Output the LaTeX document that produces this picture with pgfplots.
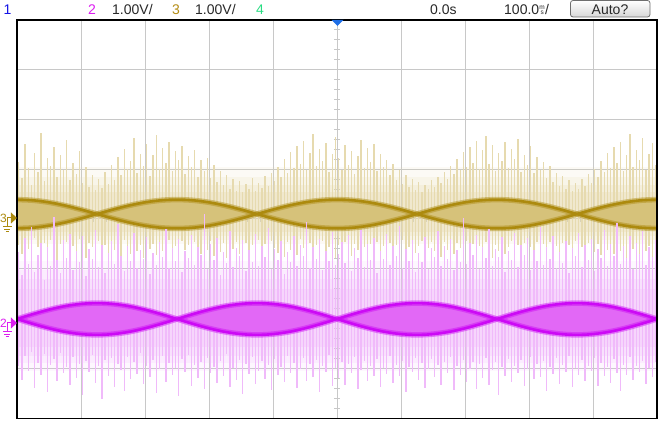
\documentclass[border=0pt]{standalone}
\usepackage{pgfplots}
\pgfplotsset{compat=1.18}
\usepackage{pgfplotstable}
\usepackage{fontspec}
\setmainfont{Liberation Sans}
\definecolor{gline}{RGB}{172,138,14}
\definecolor{gfill}{RGB}{214,194,122}
\definecolor{gnoise}{RGB}{230,218,175}
\definecolor{mline}{RGB}{204,10,245}
\definecolor{mfill}{RGB}{226,104,246}
\definecolor{mnoise}{RGB}{240,186,250}
\definecolor{gridc}{RGB}{200,200,200}
\definecolor{txt}{RGB}{40,40,40}
\definecolor{ch1}{RGB}{20,20,230}
\definecolor{ch2}{RGB}{220,30,240}
\definecolor{ch3}{RGB}{180,140,20}
\definecolor{ch4}{RGB}{40,220,130}
\definecolor{trig}{RGB}{30,110,230}

% the two crossing envelope traces of each channel
\pgfplotstableread{
x gA gB mC mD
-5 0.39 -0.19 -2.01 -2.01
-4.75 0.376 -0.176 -1.911 -2.109
-4.5 0.335 -0.135 -1.822 -2.198
-4.25 0.271 -0.071 -1.751 -2.269
-4 0.19 0.01 -1.706 -2.314
-3.75 0.1 0.1 -1.69 -2.33
-3.5 0.01 0.19 -1.706 -2.314
-3.25 -0.071 0.271 -1.751 -2.269
-3 -0.135 0.335 -1.822 -2.198
-2.75 -0.176 0.376 -1.911 -2.109
-2.5 -0.19 0.39 -2.01 -2.01
-2.25 -0.176 0.376 -2.109 -1.911
-2 -0.135 0.335 -2.198 -1.822
-1.75 -0.071 0.271 -2.269 -1.751
-1.5 0.01 0.19 -2.314 -1.706
-1.25 0.1 0.1 -2.33 -1.69
-1 0.19 0.01 -2.314 -1.706
-0.75 0.271 -0.071 -2.269 -1.751
-0.5 0.335 -0.135 -2.198 -1.822
-0.25 0.376 -0.176 -2.109 -1.911
0 0.39 -0.19 -2.01 -2.01
0.25 0.376 -0.176 -1.911 -2.109
0.5 0.335 -0.135 -1.822 -2.198
0.75 0.271 -0.071 -1.751 -2.269
1 0.19 0.01 -1.706 -2.314
1.25 0.1 0.1 -1.69 -2.33
1.5 0.01 0.19 -1.706 -2.314
1.75 -0.071 0.271 -1.751 -2.269
2 -0.135 0.335 -1.822 -2.198
2.25 -0.176 0.376 -1.911 -2.109
2.5 -0.19 0.39 -2.01 -2.01
2.75 -0.176 0.376 -2.109 -1.911
3 -0.135 0.335 -2.198 -1.822
3.25 -0.071 0.271 -2.269 -1.751
3.5 0.01 0.19 -2.314 -1.706
3.75 0.1 0.1 -2.33 -1.69
4 0.19 0.01 -2.314 -1.706
4.25 0.271 -0.071 -2.269 -1.751
4.5 0.335 -0.135 -2.198 -1.822
4.75 0.376 -0.176 -2.109 -1.911
5 0.39 -0.19 -2.01 -2.01
}\env

% outline of the filled band of each channel (upper edge forward, lower edge back)
\pgfplotstableread{
x gy my
-5 0.39 -2.01
-4.75 0.376 -1.911
-4.5 0.335 -1.822
-4.25 0.271 -1.751
-4 0.19 -1.706
-3.75 0.1 -1.69
-3.5 0.19 -1.706
-3.25 0.271 -1.751
-3 0.335 -1.822
-2.75 0.376 -1.911
-2.5 0.39 -2.01
-2.25 0.376 -1.911
-2 0.335 -1.822
-1.75 0.271 -1.751
-1.5 0.19 -1.706
-1.25 0.1 -1.69
-1 0.19 -1.706
-0.75 0.271 -1.751
-0.5 0.335 -1.822
-0.25 0.376 -1.911
0 0.39 -2.01
0.25 0.376 -1.911
0.5 0.335 -1.822
0.75 0.271 -1.751
1 0.19 -1.706
1.25 0.1 -1.69
1.5 0.19 -1.706
1.75 0.271 -1.751
2 0.335 -1.822
2.25 0.376 -1.911
2.5 0.39 -2.01
2.75 0.376 -1.911
3 0.335 -1.822
3.25 0.271 -1.751
3.5 0.19 -1.706
3.75 0.1 -1.69
4 0.19 -1.706
4.25 0.271 -1.751
4.5 0.335 -1.822
4.75 0.376 -1.911
5 0.39 -2.01
5 -0.19 -2.01
4.75 -0.176 -2.109
4.5 -0.135 -2.198
4.25 -0.071 -2.269
4 0.01 -2.314
3.75 0.1 -2.33
3.5 0.01 -2.314
3.25 -0.071 -2.269
3 -0.135 -2.198
2.75 -0.176 -2.109
2.5 -0.19 -2.01
2.25 -0.176 -2.109
2 -0.135 -2.198
1.75 -0.071 -2.269
1.5 0.01 -2.314
1.25 0.1 -2.33
1 0.01 -2.314
0.75 -0.071 -2.269
0.5 -0.135 -2.198
0.25 -0.176 -2.109
0 -0.19 -2.01
-0.25 -0.176 -2.109
-0.5 -0.135 -2.198
-0.75 -0.071 -2.269
-1 0.01 -2.314
-1.25 0.1 -2.33
-1.5 0.01 -2.314
-1.75 -0.071 -2.269
-2 -0.135 -2.198
-2.25 -0.176 -2.109
-2.5 -0.19 -2.01
-2.75 -0.176 -2.109
-3 -0.135 -2.198
-3.25 -0.071 -2.269
-3.5 0.01 -2.314
-3.75 0.1 -2.33
-4 0.01 -2.314
-4.25 -0.071 -2.269
-4.5 -0.135 -2.198
-4.75 -0.176 -2.109
-5 -0.19 -2.01
}\band

\pgfplotstableread{
x gu gd mu md
-4.975 1.05 0.62 1.35 0.95
-4.925 0.72 0.81 0.88 1.22
-4.875 1.41 0.55 1.62 0.74
-4.825 0.93 0.70 1.10 1.05
-4.775 0.58 0.92 1.85 0.66
-4.725 1.22 0.48 0.95 1.38
-4.675 0.85 0.66 1.28 0.88
-4.625 1.63 0.75 1.52 1.12
-4.575 0.66 0.58 0.79 0.71
-4.525 1.12 0.87 1.44 1.46
-4.475 0.97 0.52 1.07 0.93
-4.425 1.35 0.69 2.05 0.80
-4.375 0.74 0.95 1.19 1.25
-4.325 1.18 0.61 0.92 0.68
-4.275 0.88 0.73 1.58 1.09
-4.225 1.48 0.56 1.23 0.97
-4.175 0.69 0.84 1.71 1.33
-4.125 1.02 0.64 0.98 0.76
-4.075 0.81 0.78 1.36 1.18
-4.025 1.27 0.50 1.14 0.90
-3.975 0.62 0.71 1.67 1.52
-3.925 0.95 0.88 0.86 0.84
-3.875 0.55 0.59 1.41 1.07
-3.825 0.78 0.67 1.20 0.73
-3.775 0.49 0.82 1.78 1.29
-3.725 0.71 0.54 1.05 0.95
-3.675 0.52 0.76 1.49 1.61
-3.625 0.84 0.63 0.93 0.82
-3.575 0.60 0.90 1.32 1.14
-3.525 0.98 0.57 1.56 0.79
-3.475 0.68 0.72 1.11 1.36
-3.425 1.15 0.60 1.90 0.91
-3.375 0.79 0.85 1.26 1.02
-3.325 1.30 0.53 0.97 1.44
-3.275 0.91 0.68 1.47 0.77
-3.225 1.06 0.80 1.16 1.21
-3.175 1.52 0.58 1.73 0.86
-3.125 0.83 0.74 1.03 1.10
-3.075 1.21 0.63 1.39 0.69
-3.025 0.96 0.89 1.21 1.31
-2.975 1.40 0.56 1.64 0.94
-2.925 0.77 0.70 0.90 1.17
-2.875 1.19 0.61 1.33 0.83
-2.825 1.58 0.83 1.08 1.48
-2.775 0.90 0.59 1.54 1.00
-2.725 1.33 0.75 1.25 0.75
-2.675 1.02 0.66 1.81 1.26
-2.625 1.45 0.52 1.02 0.89
-2.575 0.86 0.79 1.43 1.12
-2.525 1.26 0.64 1.17 0.98
-2.475 1.09 0.86 1.60 1.55
-2.425 1.37 0.55 0.94 0.81
-2.375 0.80 0.72 1.37 1.06
-2.325 1.16 0.62 1.22 0.72
-2.275 0.94 0.91 1.69 1.35
-2.225 1.29 0.57 1.09 0.92
-2.175 0.75 0.69 1.45 1.19
-2.125 1.08 0.80 1.28 0.87
-2.075 0.87 0.60 2.12 1.41
-2.025 1.13 0.73 1.00 0.78
-1.975 0.73 0.54 1.51 1.09
-1.925 0.99 0.84 1.18 0.96
-1.875 0.64 0.65 1.63 1.28
-1.825 0.86 0.77 0.89 0.85
-1.775 0.58 0.59 1.34 1.15
-1.725 0.79 0.88 1.13 0.70
-1.675 0.51 0.62 1.76 1.37
-1.625 0.70 0.71 1.04 0.99
-1.575 0.47 0.56 1.42 1.23
-1.525 0.66 0.81 1.27 0.82
-1.475 0.44 0.67 1.59 1.50
-1.425 0.61 0.58 0.96 0.90
-1.375 0.50 0.74 1.38 1.11
-1.325 0.72 0.63 1.15 0.76
-1.275 0.46 0.85 1.70 1.30
-1.225 0.63 0.53 1.07 1.04
-1.175 0.53 0.70 1.46 0.84
-1.125 0.76 0.61 1.24 1.20
-1.075 0.57 0.82 1.83 0.93
-1.025 0.82 0.55 1.01 1.42
-0.975 0.67 0.68 1.40 0.80
-0.925 0.95 0.78 1.19 1.13
-0.875 0.74 0.60 1.57 0.97
-0.825 1.10 0.87 0.91 1.27
-0.775 0.83 0.57 1.35 0.74
-0.725 1.24 0.72 1.14 1.09
-0.675 0.92 0.64 1.66 0.88
-0.625 1.36 0.83 1.06 1.39
-0.575 1.00 0.51 1.48 1.01
-0.525 1.47 0.69 1.26 0.79
-0.475 0.89 0.77 1.95 1.24
-0.425 1.23 0.58 1.02 0.91
-0.375 1.60 0.86 1.44 1.16
-0.325 0.97 0.62 1.20 0.83
-0.275 1.31 0.74 1.61 1.46
-0.225 1.07 0.55 0.99 0.95
-0.175 1.43 0.80 1.37 1.07
-0.125 0.85 0.66 1.16 0.73
-0.075 1.20 0.59 1.74 1.34
-0.025 1.54 0.89 1.08 0.98
0.025 1.12 0.63 1.30 1.19
0.075 0.88 0.79 1.55 0.86
0.125 1.38 0.57 1.12 1.32
0.175 0.99 0.71 1.68 0.90
0.225 1.26 0.84 0.97 1.08
0.275 0.81 0.60 1.43 0.77
0.325 1.17 0.73 1.23 1.40
0.375 1.49 0.54 1.79 1.02
0.425 0.93 0.67 1.05 0.85
0.475 1.32 0.88 1.50 1.25
0.525 1.04 0.61 1.18 0.94
0.575 1.41 0.76 1.62 1.14
0.625 0.86 0.56 0.93 0.81
0.675 1.21 0.82 1.36 1.36
0.725 0.95 0.65 1.21 0.99
0.775 1.09 0.70 1.71 1.10
0.825 0.78 0.58 1.09 0.75
0.875 1.00 0.85 1.46 1.29
0.925 0.69 0.62 1.27 0.92
0.975 0.88 0.74 1.86 1.15
1.025 0.60 0.53 1.03 0.84
1.075 0.79 0.80 1.40 1.47
1.125 0.55 0.66 1.17 0.97
1.175 0.71 0.59 1.58 1.06
1.225 0.48 0.78 0.95 0.79
1.275 0.64 0.64 1.33 1.23
1.325 0.45 0.55 1.15 0.88
1.375 0.59 0.83 1.64 1.38
1.425 0.50 0.69 1.00 1.01
1.475 0.68 0.57 1.42 0.80
1.525 0.54 0.75 1.25 1.17
1.575 0.75 0.61 1.77 0.93
1.625 0.62 0.87 1.06 1.32
1.675 0.84 0.56 1.47 0.86
1.725 0.70 0.72 1.20 1.09
1.775 0.97 0.63 1.60 0.76
1.825 0.80 0.81 0.98 1.43
1.875 1.11 0.58 1.38 0.95
1.925 0.89 0.69 1.14 1.12
1.975 1.25 0.77 2.02 0.82
2.025 0.94 0.54 1.10 1.27
2.075 1.35 0.86 1.52 1.00
2.125 1.03 0.60 1.29 0.87
2.175 1.46 0.73 1.69 1.40
2.225 0.91 0.65 1.01 0.91
2.275 1.28 0.82 1.45 1.18
2.325 1.56 0.57 1.22 0.78
2.375 1.01 0.70 1.80 1.33
2.425 1.39 0.88 1.07 1.03
2.475 0.87 0.62 1.41 0.86
2.525 1.22 0.75 1.24 1.52
2.575 1.06 0.59 1.65 0.97
2.625 1.44 0.80 0.94 1.14
2.675 0.92 0.67 1.37 0.80
2.725 1.30 0.55 1.19 1.26
2.775 1.10 0.84 1.73 0.94
2.825 1.51 0.63 1.04 1.08
2.875 0.84 0.72 1.49 0.83
2.925 1.19 0.58 1.28 1.35
2.975 0.98 0.79 1.62 1.01
3.025 1.36 0.66 0.99 0.77
3.075 0.82 0.85 1.39 1.21
3.125 1.14 0.56 1.16 0.90
3.175 0.88 0.71 1.84 1.16
3.225 1.05 0.61 1.08 0.85
3.275 0.73 0.80 1.44 1.44
3.325 0.96 0.57 1.21 0.96
3.375 0.65 0.74 1.66 1.10
3.425 0.83 0.64 1.02 0.79
3.475 0.57 0.87 1.35 1.30
3.525 0.76 0.59 1.13 0.92
3.575 0.51 0.70 1.57 1.07
3.625 0.69 0.62 0.92 0.74
3.675 0.47 0.78 1.43 1.37
3.725 0.62 0.55 1.26 0.99
3.775 0.50 0.73 1.72 1.12
3.825 0.71 0.66 1.05 0.82
3.875 0.56 0.84 1.48 1.25
3.925 0.80 0.58 1.18 0.94
3.975 0.63 0.69 1.61 1.05
4.025 0.91 0.76 0.97 0.78
4.075 0.74 0.60 1.40 1.34
4.125 1.07 0.83 1.22 0.89
4.175 0.85 0.56 1.78 1.15
4.225 1.23 0.72 1.06 0.97
4.275 0.92 0.64 1.51 1.28
4.325 1.34 0.81 1.27 0.81
4.375 1.02 0.59 1.93 1.09
4.425 1.45 0.75 1.11 1.45
4.475 0.86 0.67 1.46 0.93
4.525 1.18 0.88 1.23 1.13
4.575 1.60 0.57 1.67 0.76
4.625 0.95 0.71 1.00 1.22
4.675 1.29 0.63 1.53 0.95
4.725 1.08 0.82 1.30 1.06
4.775 1.52 0.58 1.76 0.84
4.825 0.89 0.74 1.08 1.31
4.875 1.21 0.65 1.44 0.99
4.925 1.42 0.86 1.25 1.16
4.975 0.99 0.61 1.59 0.87
}\noise

\begin{document}
\begin{tikzpicture}
% minor ticks on the centre lines
\begin{scope}[draw=gridc, line width=1pt]
\foreach \k in {-19,...,19} \draw (317pt,{199pt+\k*9.95pt}) -- (323pt,{199pt+\k*9.95pt});
\foreach \k in {-24,...,24} \draw ({320pt+\k*12.8pt},196pt) -- ({320pt+\k*12.8pt},202pt);
\end{scope}
\begin{axis}[
  at={(0pt,0pt)}, anchor=south west,
  scale only axis, width=640pt, height=398pt,
  xmin=-5, xmax=5, ymin=-4, ymax=4,
  xtick={-4,-3,-2,-1,0,1,2,3,4}, ytick={-3,-2,-1,0,1,2,3},
  xticklabels={}, yticklabels={},
  major tick length=0pt, tick style={draw=none},
  grid=major, grid style={draw=gridc, line width=1pt},
  axis line style={draw=none},
  clip=true,
]
% gold channel noise halo (graded) and spikes
\addplot[forget plot, draw=none, fill=gnoise, fill opacity=0.12] coordinates {(-5,-0.50) (5,-0.50) (5,1.05) (-5,1.05)} -- cycle;
\addplot[forget plot, draw=none, fill=gnoise, fill opacity=0.18] coordinates {(-5,-0.42) (5,-0.42) (5,0.85) (-5,0.85)} -- cycle;
\addplot[forget plot, draw=none, fill=gnoise, fill opacity=0.22] coordinates {(-5,-0.34) (5,-0.34) (5,0.68) (-5,0.68)} -- cycle;
\addplot[forget plot, draw=none, fill=gnoise, fill opacity=0.32] coordinates {(-5,-0.27) (5,-0.27) (5,0.54) (-5,0.54)} -- cycle;
\addplot[forget plot, draw=none, mark=none,
  error bars/.cd, y dir=both, y explicit, error mark=none,
  error bar style={draw=gnoise, line width=1.4pt}]
  table[x=x, y expr=0.1, y error plus=gu, y error minus=gd] {\noise};
% gold band
\addplot[forget plot, draw=none, fill=gfill] table[x=x,y=gy] {\band} -- cycle;
\addplot[forget plot, gline, smooth, line width=5.5pt, opacity=0.45] table[x=x,y=gA] {\env};
\addplot[forget plot, gline, smooth, line width=5.5pt, opacity=0.45] table[x=x,y=gB] {\env};
\addplot[forget plot, gline, smooth, line width=2.6pt] table[x=x,y=gA] {\env};
\addplot[forget plot, gline, smooth, line width=2.6pt] table[x=x,y=gB] {\env};
% magenta channel noise halo (graded) and spikes
\addplot[forget plot, draw=none, fill=mnoise, fill opacity=0.12] coordinates {(-5,-3.05) (5,-3.05) (5,-0.85) (-5,-0.85)} -- cycle;
\addplot[forget plot, draw=none, fill=mnoise, fill opacity=0.18] coordinates {(-5,-2.90) (5,-2.90) (5,-1.02) (-5,-1.02)} -- cycle;
\addplot[forget plot, draw=none, fill=mnoise, fill opacity=0.22] coordinates {(-5,-2.75) (5,-2.75) (5,-1.20) (-5,-1.20)} -- cycle;
\addplot[forget plot, draw=none, fill=mnoise, fill opacity=0.32] coordinates {(-5,-2.58) (5,-2.58) (5,-1.40) (-5,-1.40)} -- cycle;
\addplot[forget plot, draw=none, mark=none,
  error bars/.cd, y dir=both, y explicit, error mark=none,
  error bar style={draw=mnoise, line width=1.4pt}]
  table[x=x, y expr=-2.01, y error plus=mu, y error minus=md] {\noise};
% magenta band
\addplot[forget plot, draw=none, fill=mfill] table[x=x,y=my] {\band} -- cycle;
\addplot[forget plot, mline, smooth, line width=5.5pt, opacity=0.45] table[x=x,y=mC] {\env};
\addplot[forget plot, mline, smooth, line width=5.5pt, opacity=0.45] table[x=x,y=mD] {\env};
\addplot[forget plot, mline, smooth, line width=2.6pt] table[x=x,y=mC] {\env};
\addplot[forget plot, mline, smooth, line width=2.6pt] table[x=x,y=mD] {\env};
\end{axis}
% overlay in reference pixel coordinates
\begin{scope}[x=1pt, y=-1pt, shift={(-17pt,418pt)}]
\draw[black, line width=1.3pt] (17,20) rectangle (657,418.3);
% trigger marker
\fill[trig] (331.5,20) -- (343.5,20) -- (337.5,26) -- cycle;
% top bar texts
\begin{scope}[every node/.style={inner sep=0pt, anchor=base west, font=\fontsize{14}{14}\selectfont}]
\node[text=ch1] at (3.5,15) {1};
\node[text=ch2] at (88,15) {2};
\node[text=txt] at (112,15) {1.00V/};
\node[text=ch3] at (172,15) {3};
\node[text=txt] at (195,15) {1.00V/};
\node[text=ch4] at (256,15) {4};
\node[text=txt] at (430,15) {0.0s};
\node[text=txt] at (504,15) {100.0\kern0.2pt\raisebox{0.5pt}{\fontsize{6.5}{6}\selectfont\shortstack{m\\[-1pt]s}}\kern0.3pt/};
\end{scope}
\draw[draw={rgb,255:red,110;green,110;blue,110}, line width=0.8pt, top color=white, bottom color={rgb,255:red,215;green,215;blue,215}, rounded corners=2.5pt] (570.5,0.5) rectangle (650,17);
\node[text=txt, inner sep=0pt, anchor=base, font=\fontsize{14}{14}\selectfont] at (610,14.5) {Auto?};
% channel 3 marker
\node[text=gline, inner sep=0pt, anchor=base west, font=\fontsize{12}{12}\selectfont] at (0,222.5) {3};
\fill[gline] (11,212.5) -- (17,218) -- (11,223.5) -- cycle;
\draw[gline, line width=1pt] (11,218) -- (7.5,218) -- (7.5,226.5);
\draw[gline, line width=0.9pt] (3,226.5) -- (12,226.5) (4.5,229.2) -- (10.5,229.2) (6,231.8) -- (9,231.8);
% channel 2 marker
\node[text=ch2, inner sep=0pt, anchor=base west, font=\fontsize{12}{12}\selectfont] at (0,327.5) {2};
\fill[ch2] (11,317.5) -- (17,323) -- (11,328.5) -- cycle;
\draw[ch2, line width=1pt] (11,323) -- (7.5,323) -- (7.5,331.5);
\draw[ch2, line width=0.9pt] (3,331.5) -- (12,331.5) (4.5,334.2) -- (10.5,334.2) (6,336.8) -- (9,336.8);
\end{scope}
\pgfresetboundingbox
\path[use as bounding box] (-17pt,-4pt) rectangle (642pt,418pt);
\end{tikzpicture}
\end{document}
